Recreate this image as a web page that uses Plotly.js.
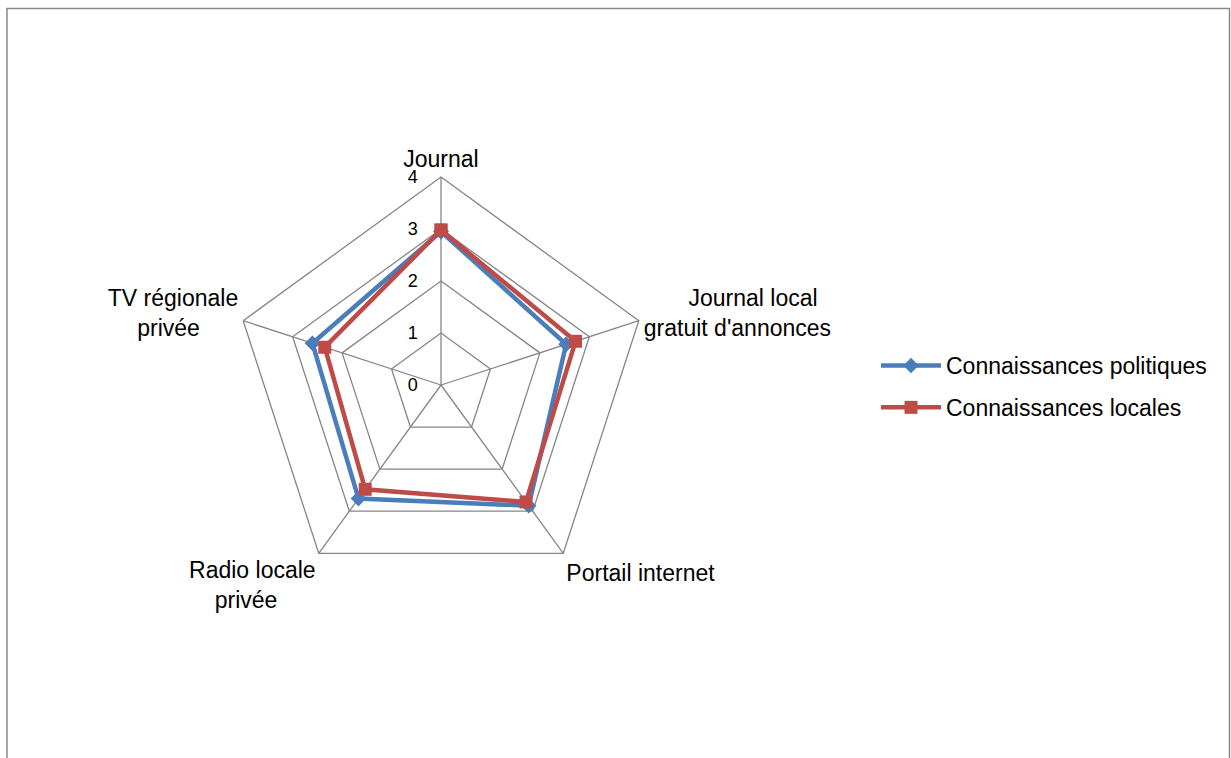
<!DOCTYPE html>
<html><head><meta charset="utf-8">
<script src="https://cdn.plot.ly/plotly-3.0.1.min.js"></script>
<style>html,body{margin:0;padding:0;background:#fff}</style>
</head><body>
<div id="chart" style="width:1231px;height:758px"></div>
<script>
const categories = ["Journal", "Journal local<br>gratuit d'annonces", "Portail internet", "Radio locale<br>privée", "TV régionale<br>privée"];
const politiques = [2.95, 2.53, 2.87, 2.7, 2.6];
const locales = [2.98, 2.72, 2.78, 2.48, 2.35];
const seriesNames = ["Connaissances politiques", "Connaissances locales"];
const radialTicks = [0, 1, 2, 3, 4];

const NB = '\u00A0';
const W = 1231, H = 758, cx = 441, cy = 385, R = 208;
const close = a => a.concat([a[0]]);
// centre the second lines of multi-line labels by padding
const tickText = [
  categories[0],
  NB.repeat(7) + "Journal local<br>gratuit d'annonces",
  categories[2],
  "Radio locale<br>privée" + NB.repeat(6),
  "TV régionale<br>privée" + NB.repeat(6)
];
const traces = [
  {type: 'scatterpolar', r: close(politiques), theta: close(categories), name: seriesNames[0], mode: 'lines+markers', legendgroup: 'a',
   line: {color: '#4A7EBB', width: 4.5}, marker: {symbol: 'diamond', size: 12, color: '#4A7EBB'}},
  {type: 'scatterpolar', r: close(locales), theta: close(categories), name: seriesNames[1], mode: 'lines+markers', legendgroup: 'b',
   line: {color: '#BE4B48', width: 4.5}, marker: {symbol: 'square', size: 13, color: '#BE4B48'}}
];
const layout = {
  width: W, height: H, margin: {l: 0, r: 0, t: 0, b: 0},
  paper_bgcolor: '#fff', plot_bgcolor: '#fff',
  font: {family: 'Liberation Sans, Arial, sans-serif', size: 23, color: '#000'},
  showlegend: true,
  legend: {x: 876 / W, y: 1 - 344 / H, xanchor: 'left', yanchor: 'top', font: {size: 23}, traceorder: 'grouped', tracegroupgap: 9, itemwidth: 60},
  polar: {
    domain: {x: [(cx - R) / W, (cx + R) / W], y: [1 - (cy + R) / H, 1 - (cy - R) / H]},
    gridshape: 'linear', bgcolor: '#fff',
    angularaxis: {direction: 'clockwise', rotation: 90, linecolor: '#868686', linewidth: 1.3, gridcolor: '#868686', gridwidth: 1.3,
      showline: true, ticks: '', tickfont: {size: 23}, tickmode: 'array', tickvals: categories, ticktext: tickText},
    radialaxis: {range: [0, 4], tickvals: radialTicks, ticktext: radialTicks.map(v => String(v) + NB.repeat(4)), angle: 90, showline: false, linecolor: '#868686',
      gridcolor: '#868686', gridwidth: 1.3, ticks: '', tickfont: {size: 18}, side: 'counterclockwise', tickangle: 90}
  },
  shapes: [{type: 'rect', xref: 'paper', yref: 'paper', x0: 7 / W, x1: 1229.5 / W, y0: -0.05, y1: 1 - 8.5 / H,
    line: {color: '#898989', width: 1.5}}]
};
Plotly.newPlot('chart', traces, layout, {displayModeBar: false, staticPlot: true});
</script>
</body></html>
